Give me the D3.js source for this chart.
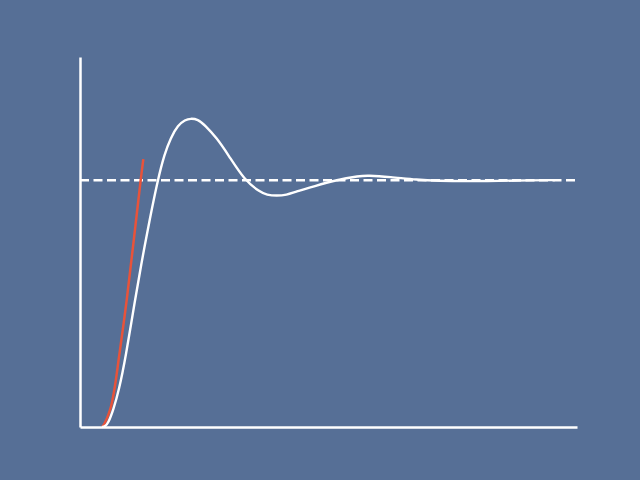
<!DOCTYPE html>
<html>
<head>
    <meta charset="utf-8">
    <title>Step response</title>
    <style>
        body { margin: 0; background: #566f96; }
        .axis path { stroke: #fff; stroke-width: 2.5px; }
        .response { fill: none; stroke: #fff; stroke-width: 2.4px; }
        .tangent { fill: none; stroke: #e8533a; stroke-width: 2.5px; }
        .setpoint { fill: none; stroke: #fff; stroke-width: 2.5px; stroke-dasharray: 9 4.5; }
    </style>
</head>
<body>
    <svg width="640" height="480"></svg>

    <script src="https://d3js.org/d3.v7.min.js"></script>
    <script>
        // step response (time, output)
        const respT = [0.443, 0.503, 0.569, 0.670, 0.785, 0.920, 1.107, 1.247, 1.408, 1.563,
            1.700, 1.825, 1.972, 2.113, 2.227, 2.370, 2.515, 2.750, 2.984, 3.310, 3.622, 3.757,
            3.958, 4.159, 4.326, 4.728, 5.131, 5.634, 5.775, 6.237, 6.781, 7.243, 7.706, 8.451,
            9.054, 9.557];
        const respY = [0, 0.002, 0.016, 0.069, 0.150, 0.284, 0.515, 0.677, 0.847, 1.000,
            1.107, 1.172, 1.224, 1.245, 1.251, 1.247, 1.224, 1.172, 1.103, 1.000, 0.953, 0.941,
            0.937, 0.941, 0.953, 0.977, 1.000, 1.018, 1.020, 1.014, 1.002, 0.998, 0.996, 0.998,
            1.000, 1.001];

        // red line near the start
        const tanT = [0.44, 0.463, 0.604, 0.690, 0.785, 0.940, 1.221, 1.274];
        const tanY = [0, 0.004, 0.069, 0.150, 0.284, 0.515, 1.001, 1.086];

        const setpoint = 1.0;
        const xDomain = [0, 10];
        const yDomain = [0, 1.5];

        const svg = d3.select("svg");

        const x = d3.scaleLinear().domain(xDomain).range([80, 577]);
        const y = d3.scaleLinear().domain(yDomain).range([427, 57]);

        // setpoint dashed line
        svg.append("line")
            .attr("class", "setpoint")
            .attr("x1", x(xDomain[0]))
            .attr("x2", x(xDomain[1]))
            .attr("y1", y(setpoint))
            .attr("y2", y(setpoint));

        const line = d3.line()
            .x(d => x(d[0]))
            .y(d => y(d[1]));

        svg.append("path")
            .attr("class", "tangent")
            .attr("d", line.curve(d3.curveCatmullRom.alpha(0.5))(d3.zip(tanT, tanY)));

        svg.append("path")
            .attr("class", "response")
            .attr("d", line.curve(d3.curveBasis)(d3.zip(respT, respY)));

        // bare axes, no ticks
        svg.append("g")
            .attr("class", "axis")
            .attr("transform", "translate(0," + y(0) + ")")
            .call(d3.axisBottom(x).tickValues([]).tickSizeOuter(0));

        svg.append("g")
            .attr("class", "axis")
            .attr("transform", "translate(" + x(0) + ",0)")
            .call(d3.axisLeft(y).tickValues([]).tickSizeOuter(0));
    </script>
</body>
</html>
